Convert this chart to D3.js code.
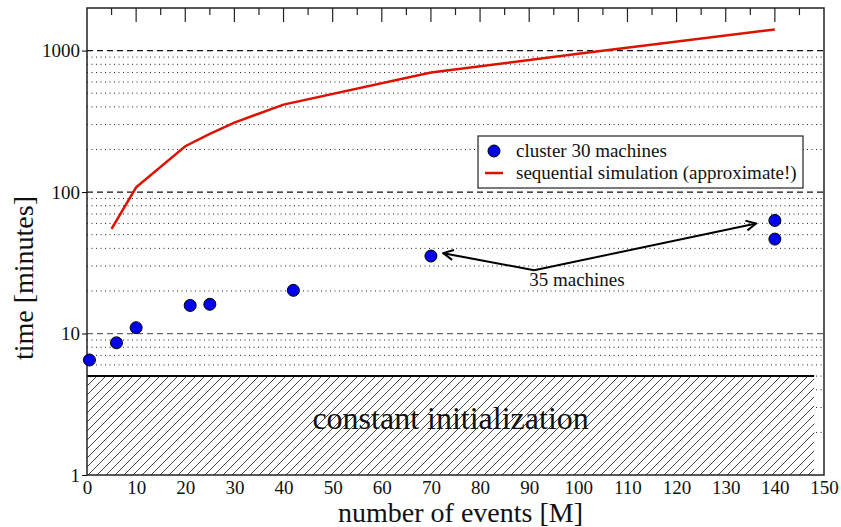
<!DOCTYPE html>
<html lang="en">
<head>
	<meta charset="UTF-8">
	<title>time vs number of events</title>
	<script type="text/javascript" src="https://cdn.jsdelivr.net/npm/d3@7"></script>
	<style>
		body { margin: 0; background: #fff; }
		svg text { font-family: "Liberation Serif", "DejaVu Serif", serif !important; fill: #111; }
		.dot { fill: #0000ee; stroke: #000; stroke-width: 1px; }
	</style>
</head>
<body>
<script type="text/javascript">
	// cluster runs (30 machines, the two upper ones 35 machines)
	var clusterEvents = [0.5, 6, 10, 21, 25, 42, 70, 140, 140];
	var clusterMinutes = [6.5, 8.6, 11, 15.8, 16.1, 20.2, 35.3, 63, 46.5];

	// sequential simulation (approximate)
	var seqEvents = [5, 10, 20, 25, 30, 40, 70, 100, 140];
	var seqMinutes = [55, 108, 211, 258, 310, 415, 700, 950, 1410];

	var initMinutes = 5;
	var initEnd = 148;

	var xTicks = [0, 10, 20, 30, 40, 50, 60, 70, 80, 90, 100, 110, 120, 130, 140, 150];
	var yTicks = [1, 10, 100, 1000];

	// arrow "35 machines": vertex, left tip, right tip (data units)
	var arrowVertex = [91, 28];
	var arrowTips = [[72.5, 37], [136.2, 60]];

	var serif = '"Liberation Serif", "DejaVu Serif", serif';

	var W = 841, H = 527;
	var margin = { top: 8, left: 87, bottom: 52, right: 17 };
	var width = W - margin.left - margin.right;
	var height = H - margin.top - margin.bottom;

	var svg = d3.select('body').append('svg')
		.attr('width', W).attr('height', H)
		.attr('font-family', serif);

	var defs = svg.append('defs');
	var pat = defs.append('pattern')
		.attr('id', 'hatch')
		.attr('patternUnits', 'userSpaceOnUse')
		.attr('width', 9).attr('height', 9);
	pat.append('rect').attr('width', 9).attr('height', 9).attr('fill', '#fff');
	pat.append('path')
		.attr('d', 'M0,9 L9,0 M-2,2 L2,-2 M7,11 L11,7')
		.attr('stroke', '#444').attr('stroke-width', 1);

	defs.append('marker')
		.attr('id', 'arrowhead')
		.attr('viewBox', '0 0 12 12')
		.attr('refX', 11).attr('refY', 6)
		.attr('markerWidth', 12).attr('markerHeight', 12)
		.attr('markerUnits', 'userSpaceOnUse')
		.attr('orient', 'auto')
		.append('path')
		.attr('d', 'M1,1 L11,6 L1,11')
		.attr('fill', 'none').attr('stroke', '#000').attr('stroke-width', 2);

	var g = svg.append('g')
		.attr('transform', 'translate(' + margin.left + ',' + margin.top + ')');

	var x = d3.scaleLinear().domain([0, 150]).range([0, width]);
	var y = d3.scaleLog().domain([1, 2000]).range([height, 0]);

	// grid lines
	var minor = [];
	[1, 10, 100, 1000].forEach(function (d) {
		for (var k = 2; k <= 9; k++) { if (d * k < 2000) minor.push(d * k); }
	});
	g.selectAll('.minor').data(minor).enter().append('line')
		.attr('x1', 0).attr('x2', width)
		.attr('y1', function (d) { return y(d); })
		.attr('y2', function (d) { return y(d); })
		.attr('stroke', '#222').attr('stroke-width', 1)
		.attr('stroke-dasharray', '1,3.5');
	g.selectAll('.major').data([10, 100, 1000]).enter().append('line')
		.attr('x1', 0).attr('x2', width)
		.attr('y1', function (d) { return y(d); })
		.attr('y2', function (d) { return y(d); })
		.attr('stroke', function (d) { return d === 10 ? '#666' : '#111'; })
		.attr('stroke-width', 1.3)
		.attr('stroke-dasharray', '6,4');

	// constant initialization area
	g.append('rect')
		.attr('x', x(0)).attr('y', y(initMinutes))
		.attr('width', x(initEnd) - x(0))
		.attr('height', y(1) - y(initMinutes))
		.attr('fill', 'url(#hatch)');
	g.append('line')
		.attr('x1', x(0)).attr('x2', x(initEnd))
		.attr('y1', y(initMinutes)).attr('y2', y(initMinutes))
		.attr('stroke', '#000').attr('stroke-width', 2);
	g.append('text')
		.attr('x', x(74)).attr('y', y(2.1))
		.attr('text-anchor', 'middle')
		.style('font-size', '32px')
		.text('constant initialization');

	// frame
	g.append('rect')
		.attr('width', width).attr('height', height)
		.attr('fill', 'none').attr('stroke', '#222').attr('stroke-width', 1.5);

	// top ticks (inward)
	var topMinor = d3.range(5, 150, 10);
	g.selectAll('.tmaj').data(xTicks.slice(1, -1)).enter().append('line')
		.attr('x1', function (d) { return x(d); }).attr('x2', function (d) { return x(d); })
		.attr('y1', 0).attr('y2', 14)
		.attr('stroke', '#222').attr('stroke-width', 1.2);
	g.selectAll('.tmin').data(topMinor).enter().append('line')
		.attr('x1', function (d) { return x(d); }).attr('x2', function (d) { return x(d); })
		.attr('y1', 0).attr('y2', 7)
		.attr('stroke', '#222').attr('stroke-width', 1.2);

	// axes
	var xAxis = g.append('g')
		.attr('transform', 'translate(0,' + height + ')')
		.call(d3.axisBottom(x).tickValues(xTicks).tickSize(0).tickPadding(6).tickFormat(d3.format('d')))
		.attr('font-family', serif);
	xAxis.select('.domain').remove();
	xAxis.selectAll('text').style('font-size', '19px');

	var yAxis = g.append('g')
		.call(d3.axisLeft(y).tickValues(yTicks).tickSize(5).tickPadding(2).tickFormat(d3.format('d')))
		.attr('font-family', serif);
	yAxis.select('.domain').remove();
	yAxis.selectAll('text').style('font-size', '19px');

	g.append('text')
		.attr('x', width / 2 + 5).attr('y', height + 47)
		.attr('text-anchor', 'middle')
		.style('font-size', '28px')
		.text('number of events [M]');
	g.append('text')
		.attr('transform', 'translate(' + (-margin.left + 33) + ',' + (y(30) + 12) + ') rotate(-90)')
		.attr('text-anchor', 'middle')
		.style('font-size', '28px')
		.text('time [minutes]');

	// sequential line
	var line = d3.line()
		.x(function (d) { return x(d[0]); })
		.y(function (d) { return y(d[1]); });
	g.append('path')
		.datum(d3.zip(seqEvents, seqMinutes))
		.attr('d', line)
		.attr('fill', 'none').attr('stroke', '#dd1100').attr('stroke-width', 2.5);

	// cluster points
	g.selectAll('.dot').data(d3.zip(clusterEvents, clusterMinutes)).enter().append('circle')
		.attr('class', 'dot')
		.attr('r', 6)
		.attr('cx', function (d) { return x(d[0]); })
		.attr('cy', function (d) { return y(d[1]); });

	// annotation
	arrowTips.forEach(function (t) {
		g.append('line')
			.attr('x1', x(arrowVertex[0])).attr('y1', y(arrowVertex[1]))
			.attr('x2', x(t[0])).attr('y2', y(t[1]))
			.attr('stroke', '#000').attr('stroke-width', 2)
			.attr('marker-end', 'url(#arrowhead)');
	});
	g.append('text')
		.attr('x', x(90)).attr('y', y(21.5))
		.style('font-size', '19px')
		.text('35 machines');

	// legend
	var lg = svg.append('g').attr('transform', 'translate(478,136)');
	lg.append('rect').attr('width', 325).attr('height', 52)
		.attr('fill', '#fff').attr('stroke', '#222').attr('stroke-width', 1.2);
	lg.append('circle').attr('class', 'dot').attr('cx', 16).attr('cy', 15).attr('r', 6);
	lg.append('line').attr('x1', 7).attr('x2', 25).attr('y1', 37).attr('y2', 37)
		.attr('stroke', '#dd1100').attr('stroke-width', 2.5);
	lg.append('text').attr('x', 38).attr('y', 21).style('font-size', '19px').text('cluster 30 machines');
	lg.append('text').attr('x', 38).attr('y', 43).style('font-size', '19px').text('sequential simulation (approximate!)');
</script>
</body>
</html>
